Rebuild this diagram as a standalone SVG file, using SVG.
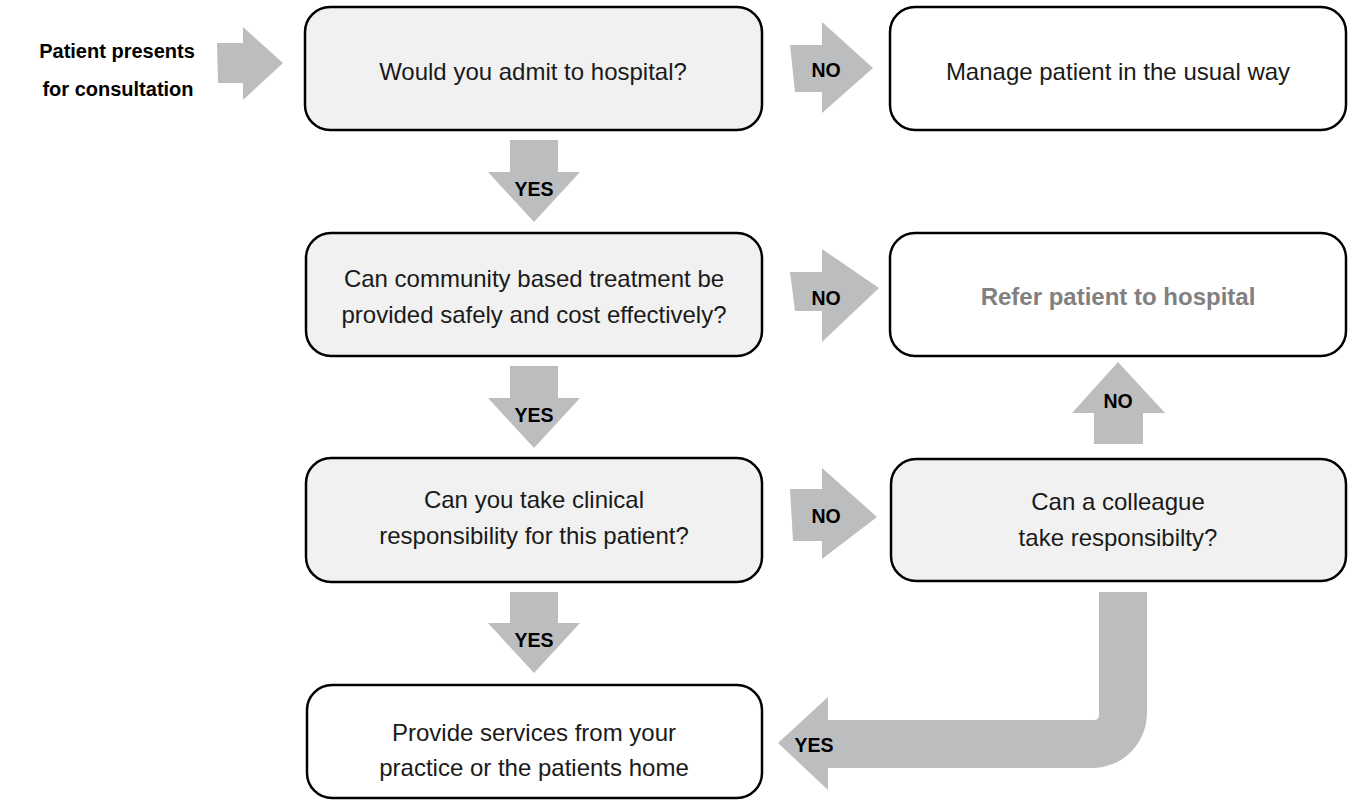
<svg xmlns="http://www.w3.org/2000/svg" width="1354" height="800" viewBox="0 0 1354 800">
<style>
.box{stroke:#000;stroke-width:2.5}
.q{fill:#f1f1f1}
.o{fill:#ffffff}
.t{font-family:"Liberation Sans",Arial,sans-serif;font-size:24px;fill:#1a1a1a;text-anchor:middle}
.lbl{font-family:"Liberation Sans",Arial,sans-serif;font-size:19.5px;font-weight:bold;fill:#000;text-anchor:middle}
.st{font-family:"Liberation Sans",Arial,sans-serif;font-size:20px;font-weight:bold;fill:#000;text-anchor:middle}
.arr{fill:#bcbdbf}
</style>
<rect width="1354" height="800" fill="#fff"/>
<g id="start">
<text class="st" x="117" y="58">Patient presents</text>
<text class="st" x="118" y="96">for consultation</text>
</g>
<g id="connectors">
<polygon class="arr" points="217,43 243,43 243,27 283,63 243,100 243,83 218,83"/>
<polygon class="arr" points="510,140 558,140 558,172 580,172 534,222 488,172 510,172"/>
<text class="lbl" x="534" y="196">YES</text>
<polygon class="arr" points="510,366 558,366 558,398 580,398 534,448 488,398 510,398"/>
<text class="lbl" x="534" y="422">YES</text>
<polygon class="arr" points="510,592 558,592 558,623 580,623 534,673 488,623 510,623"/>
<text class="lbl" x="534" y="647">YES</text>
<polygon class="arr" points="790,45 822,45 822,22 873,68 822,113 822,92 795,92"/>
<text class="lbl" x="826" y="77">NO</text>
<polygon class="arr" points="790,272 822,272 822,249 879,288 822,342 822,311 795,311"/>
<text class="lbl" x="826" y="305">NO</text>
<polygon class="arr" points="790,489 822,489 822,468 877,517 822,559 822,541 793,541"/>
<text class="lbl" x="826" y="523">NO</text>
<polygon class="arr" points="1094,444 1143,444 1143,413 1165,413 1118,362 1072,413 1094,413"/>
<text class="lbl" x="1118" y="408">NO</text>
<path class="arr" d="M1099 592 L1147 592 L1147 713 A55 55 0 0 1 1092 768 L828 768 L828 790 L778 743 L828 697 L828 720 L1094 720 Q1099 720 1099 715 Z"/>
<text class="lbl" x="814" y="752">YES</text>
</g>
<g id="admit">
<rect class="box q" x="305" y="7" width="457" height="123" rx="25"/>
<text class="t" x="533" y="80">Would you admit to hospital?</text>
</g>
<g id="manage">
<rect class="box o" x="890" y="7" width="456" height="123" rx="25"/>
<text class="t" x="1118" y="80">Manage patient in the usual way</text>
</g>
<g id="community">
<rect class="box q" x="306" y="233" width="456" height="123" rx="25"/>
<text class="t" x="534" y="287">Can community based treatment be</text>
<text class="t" x="534" y="323">provided safely and cost effectively?</text>
</g>
<g id="refer">
<rect class="box o" x="890" y="233" width="456" height="123" rx="25"/>
<text class="t" x="1118" y="305" style="font-weight:bold;fill:#808080">Refer patient to hospital</text>
</g>
<g id="clinical">
<rect class="box q" x="306" y="458" width="456" height="124" rx="25"/>
<text class="t" x="534" y="508">Can you take clinical</text>
<text class="t" x="534" y="544">responsibility for this patient?</text>
</g>
<g id="colleague">
<rect class="box q" x="891" y="459" width="455" height="122" rx="25"/>
<text class="t" x="1118" y="510">Can a colleague</text>
<text class="t" x="1118" y="546">take responsibilty?</text>
</g>
<g id="provide">
<rect class="box o" x="307" y="685" width="455" height="113" rx="25"/>
<text class="t" x="534" y="741">Provide services from your</text>
<text class="t" x="534" y="776">practice or the patients home</text>
</g>
</svg>
